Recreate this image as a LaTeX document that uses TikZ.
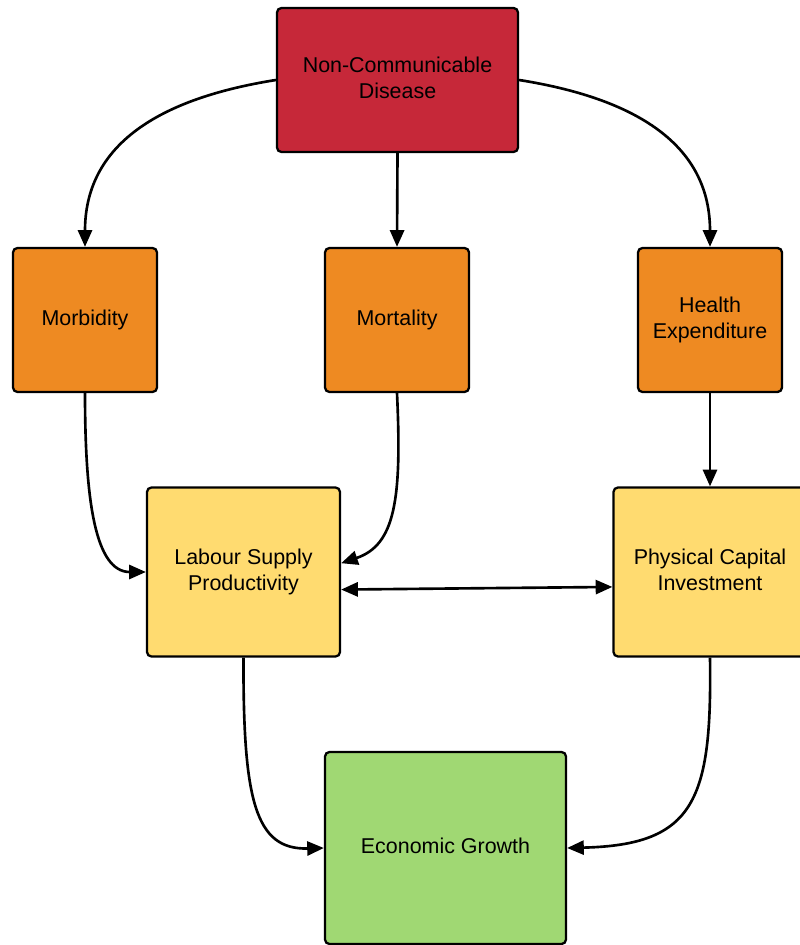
\documentclass[tikz,border=0pt]{standalone}
\usepackage{fontspec}
\setmainfont{Liberation Sans}
\usepackage{xcolor}
\usetikzlibrary{arrows.meta,calc}

\definecolor{ncdred}{HTML}{C62839}
\definecolor{midorange}{HTML}{EE8A22}
\definecolor{lowyellow}{HTML}{FFDB70}
\definecolor{growgreen}{HTML}{A0D873}

\begin{document}
\begin{tikzpicture}[x=0.02cm, y=-0.02cm,
    box/.style={draw=black, line width=1.3pt, rounded corners=2.5pt, align=center,
                font=\fontsize{12.2}{14.8}\selectfont, inner sep=0pt, text depth=0.3em},
    link/.style={line width=1.5pt, -{Triangle[length=9.5pt,width=8pt]}}]
    \useasboundingbox (0,0) rectangle (799,945);

    % Boxes
    \node[box, fill=ncdred, minimum width=4.82cm, minimum height=2.88cm] (ncd) at (397.5,80) {Non-Communicable\\Disease};
    \node[box, fill=midorange, minimum width=2.88cm, minimum height=2.88cm] (morb) at (85,320) {Morbidity};
    \node[box, fill=midorange, minimum width=2.88cm, minimum height=2.88cm] (mort) at (397,320) {Mortality};
    \node[box, fill=midorange, minimum width=2.88cm, minimum height=2.88cm] (hexp) at (710,320) {Health\\Expenditure};
    \node[box, fill=lowyellow, minimum width=3.86cm, minimum height=3.38cm] (lab) at (243.5,572) {Labour Supply\\Productivity};
    \node[box, fill=lowyellow, minimum width=3.86cm, minimum height=3.38cm] (phys) at (710,572) {Physical Capital\\Investment};
    \node[box, fill=growgreen, minimum width=4.82cm, minimum height=3.84cm] (eco) at (445.5,848) {Economic Growth};

    % Top level
    \draw[link] (ncd.west) .. controls (150,100) and (85,150) .. (morb.north);
    \draw[link] (ncd.south) -- (mort.north);
    \draw[link] (ncd.east) .. controls (645,100) and (710,150) .. (hexp.north);

    % Middle level
    \draw[link] (morb.south) .. controls (85,500) and (95,572) .. (lab.west);
    \draw[link] (mort.south) .. controls (402,500) and (395,545) .. ([yshift=5pt]lab.east);
    \draw[link] (hexp.south) -- (phys.north);
    \draw[link, {Triangle[length=9.5pt,width=8pt]}-{Triangle[length=9.5pt,width=8pt]}] ([yshift=-10pt]lab.east) -- ([yshift=-8.5pt]phys.west);

    % Bottom level
    \draw[link] (lab.south) .. controls (243,800) and (255,850) .. (eco.west);
    \draw[link] (phys.south) .. controls (712,800) and (695,845) .. (eco.east);
\end{tikzpicture}
\end{document}
